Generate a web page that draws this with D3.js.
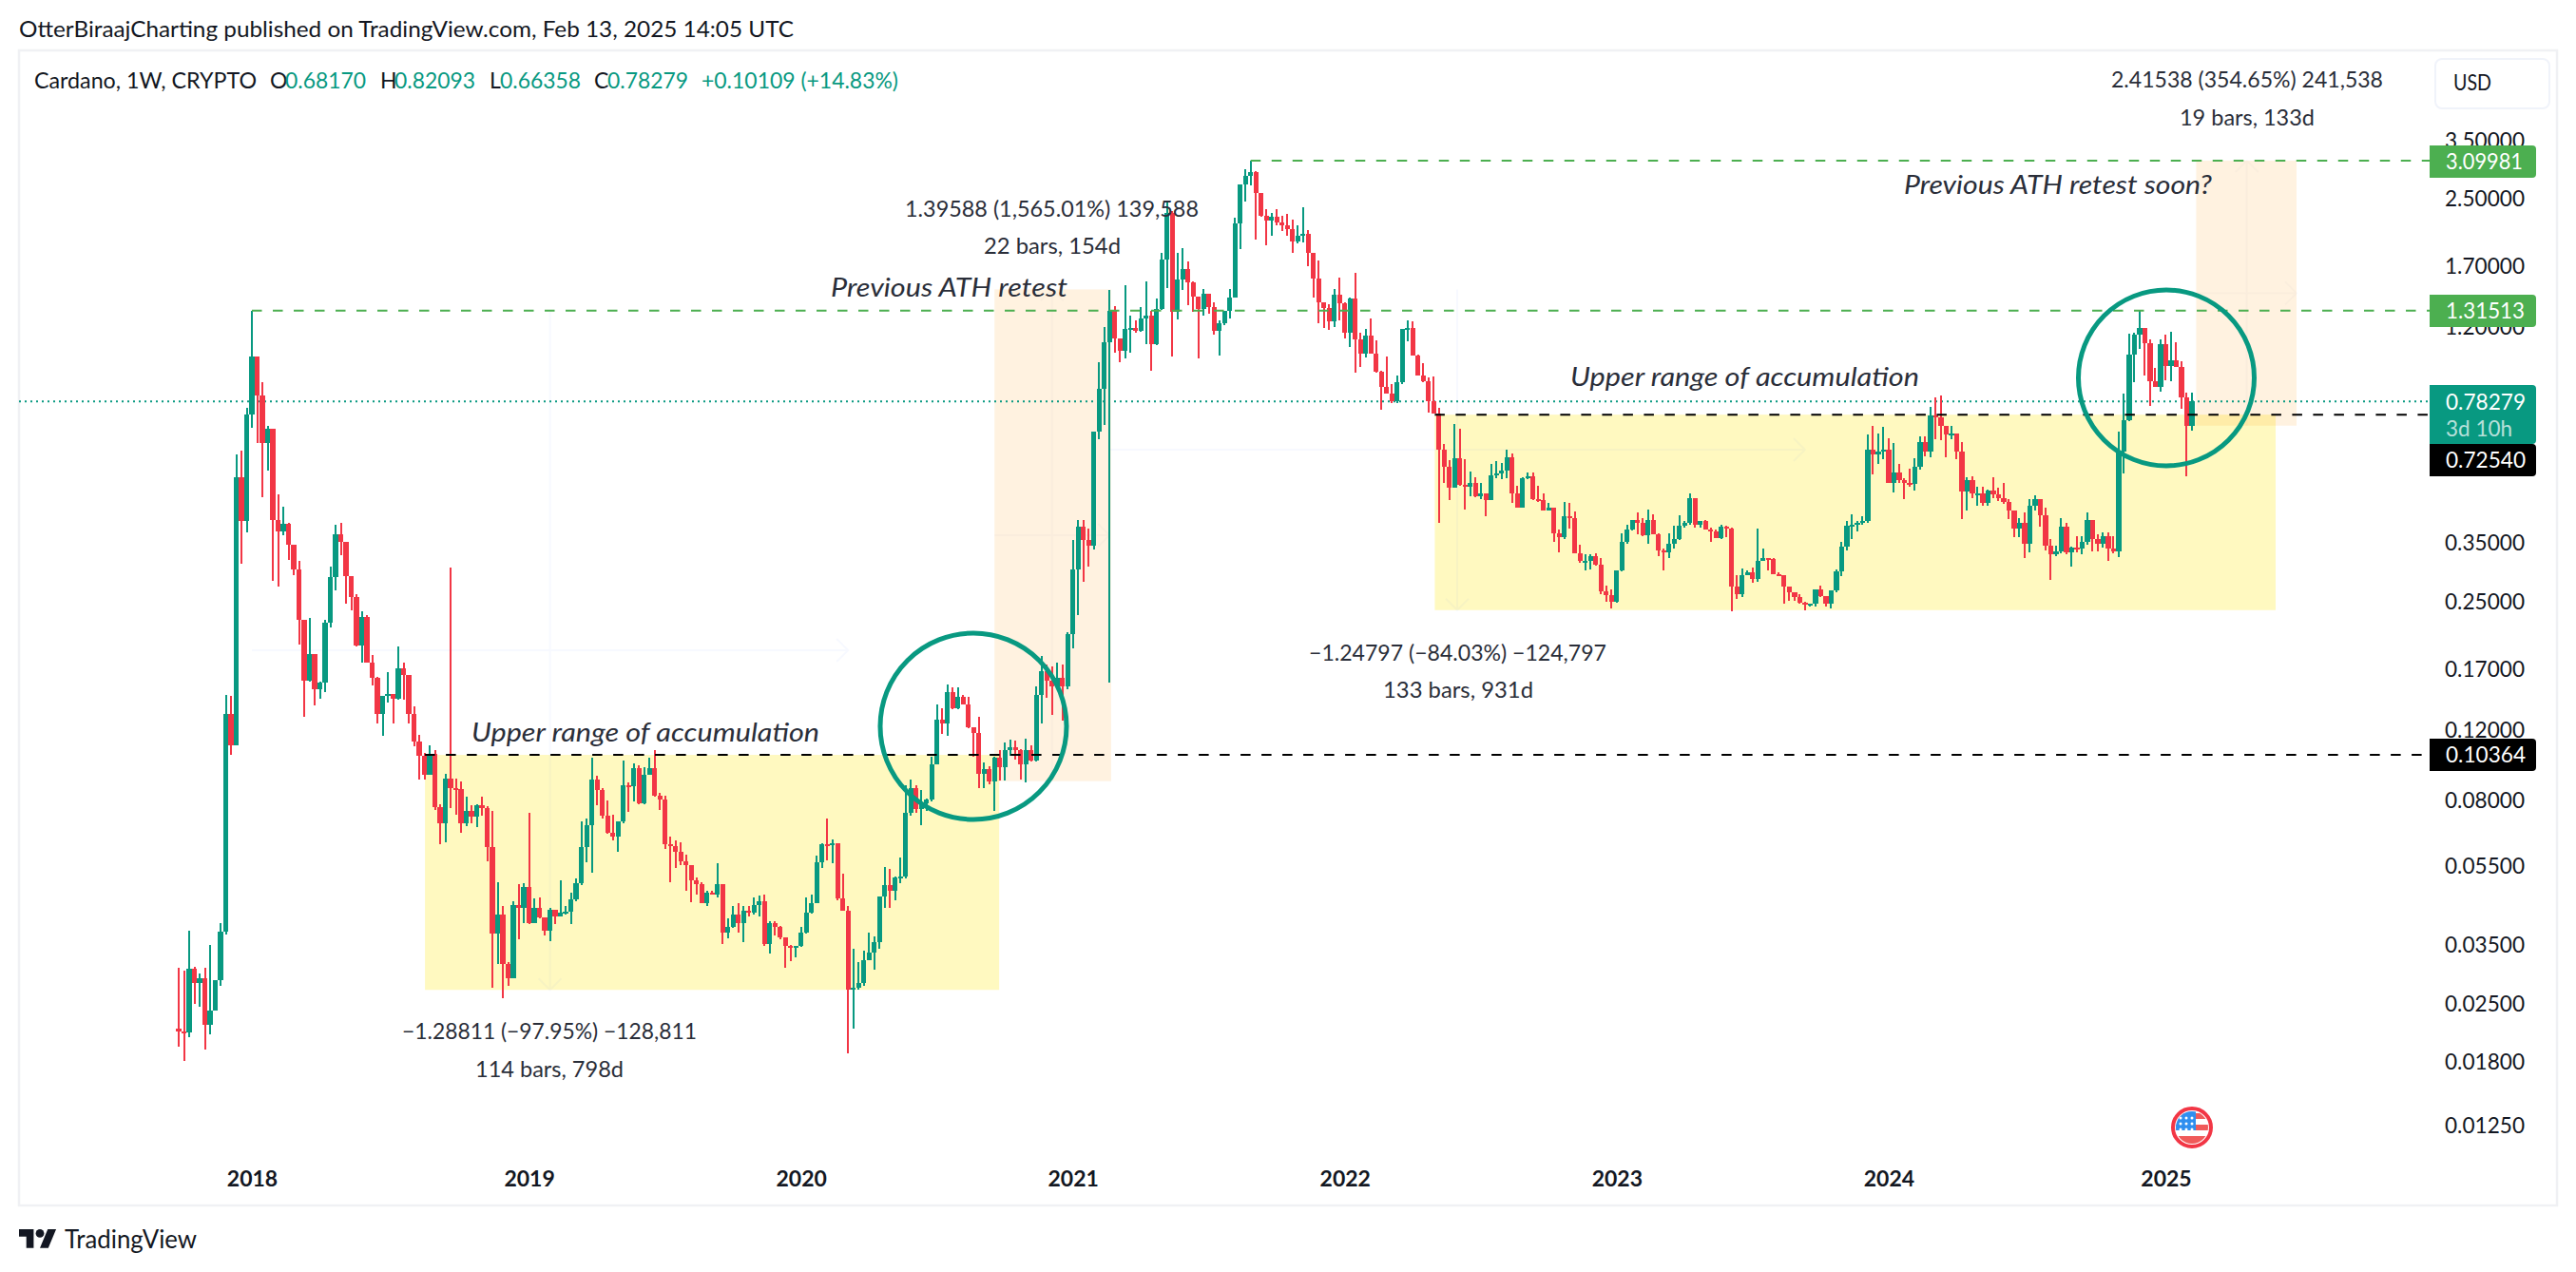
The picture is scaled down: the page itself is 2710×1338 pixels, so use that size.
<!DOCTYPE html>
<html><head><meta charset="utf-8">
<script src="https://cdnjs.cloudflare.com/ajax/libs/d3/7.8.5/d3.min.js"></script>
<style>html,body{margin:0;padding:0;background:#fff}svg{display:block}</style></head>
<body><div id="c"></div>
<script>
const firstOpen = 0.0216;
const closes = [
.0213,.0212,.0305,.0281,.0289,.0221,.0240,.0285,.0377,.1310,
.1095,.5081,.3945,.7258,1.0124,.8115,.6172,.6684,.3966,.3730,
.3885,.3444,.2989,.2240,.1586,.1844,.1505,.1563,.2207,.2860,
.3662,.3506,.2878,.2550,.1933,.2280,.1755,.1610,.1310,.1453,
.1466,.1432,.1703,.1638,.1310,.1121,.1031,.0925,.1041,.0769,
.0700,.0904,.0855,.0850,.0700,.0752,.0726,.0775,.0765,.0612,
.0373,.0415,.0313,.0289,.0440,.0433,.0488,.0396,.0433,.0408,
.0379,.0428,.0411,.0420,.0422,.0454,.0498,.0612,.0695,.0898,
.0846,.0732,.0665,.0650,.0710,.0872,.0867,.0961,.0787,.0925,
.0961,.0822,.0804,.0621,.0616,.0595,.0564,.0553,.0505,.0495,
.0443,.0470,.0466,.0494,.0376,.0388,.0415,.0396,.0424,.0420,
.0440,.0449,.0352,.0396,.0388,.0365,.0347,.0345,.0348,.0376,
.0420,.0443,.0560,.0622,.0620,.0625,.0455,.0426,.0270,.0274,
.0281,.0320,.0335,.0355,.0461,.0492,.0477,.0514,.0518,.0745,
.0859,.0761,.0785,.0802,.0984,.1265,.1238,.1486,.1355,.1442,
.1385,.1212,.1175,.0930,.0955,.0890,.1018,.0967,.1068,.1084,
.1068,.0984,.1068,.1005,.1457,.1670,.1585,.1536,.1606,.1536,
.2067,.2999,.3819,.3535,.3434,.6597,.8431,1.0966,1.3146,1.1207,
1.0461,1.1834,1.1900,1.170,1.2564,1.2747,1.0867,1.3266,1.7573,2.2982,
1.3075,1.5674,1.6641,1.5477,1.4238,1.3266,1.4519,1.3387,1.1727,1.2227,
1.3146,1.4210,2.1608,2.7079,2.8418,2.9092,2.5718,2.2650,2.2044,2.2525,
2.1726,2.1451,2.0972,1.9509,2.0205,2.0353,1.8287,1.5814,1.3790,1.3338,
1.2388,1.4439,1.3682,1.1621,1.4084,1.1167,1.0292,1.1372,1.0292,.9290,
.8508,.8172,.7840,.8712,1.1834,1.1898,1.0199,.9065,.8780,.7840,
.7320,.5946,.5390,.4782,.5641,.4852,.4808,.4896,.4552,.4614,
.4456,.5124,.5170,.5263,.5678,.4614,.4273,.5033,.5099,.4476,
.4449,.4186,.4251,.3683,.3597,.4057,.4012,.3286,.3135,.3151,
.3227,.3074,.2636,.2580,.2481,.2974,.3500,.3756,.3975,.3917,
.3643,.3975,.3660,.3334,.3304,.3472,.3555,.3833,.3904,.4502,
.3868,.3940,.3770,.3714,.3578,.3821,.3780,.2716,.2594,.2900,
.2940,.2833,.3151,.3186,.3170,.2907,.2900,.2707,.2626,.2551,
.2471,.2443,.2466,.2666,.2566,.2457,.2651,.2963,.3418,.3833,
.3868,.3904,.3940,.5922,.5786,.5876,.5946,.4917,.5217,.4982,
.4896,.4880,.5372,.6198,.5870,.7237,.7127,.6786,.6480,.6523,
.5870,.4680,.4988,.4614,.4614,.4376,.4696,.4596,.4494,.4392,
.4186,.3788,.3904,.3458,.4297,.4476,.4072,.3436,.3267,.3326,
.3830,.3304,.3387,.3375,.3503,.3969,.3564,.3469,.3629,.3375,
.3326,.5868,.7009,1.0223,1.1480,1.1905,1.0931,.8794,.8499,1.0831,
.9576,.9895,.9524,.8003,.6817,.78279];
const highs = [
.0307,.0302,.0379,.0309,.0297,.0307,.0350,.0285,.0397,.1461,
.1453,.5786,.5905,.7541,1.31513,1.0124,.8739,.6800,.6684,.4596,
.4281,.3897,.3444,.3143,.2240,.2267,.1844,.1573,.2240,.3043,
.3864,.3897,.3506,.2878,.2596,.2362,.2307,.1833,.1620,.1453,
.1668,.1461,.1927,.1755,.1638,.1369,.1161,.1047,.1095,.1063,
.0781,.0930,.3025,.0904,.0890,.0818,.0775,.0781,.0818,.0771,
.0752,.0501,.0436,.0317,.0449,.0494,.0498,.0742,.0456,.0459,
.0408,.0433,.0428,.0505,.0436,.0472,.0510,.0710,.0721,.1019,
.0920,.0858,.0799,.0736,.0710,.1005,.0885,.0987,.0979,.0966,
.1019,.1066,.0833,.0822,.0650,.0635,.0628,.0586,.0553,.0513,
.0501,.0477,.0477,.0558,.0495,.0406,.0436,.0443,.0436,.0436,
.0459,.0463,.0467,.0400,.0400,.0390,.0365,.0350,.0347,.0388,
.0459,.0467,.0582,.0625,.0722,.0638,.0622,.0525,.0437,.0342,
.0316,.0338,.0374,.0367,.0461,.0547,.0539,.0518,.0575,.0872,
.0899,.0872,.0849,.0807,.1024,.1385,.1356,.1552,.1525,.1525,
.1457,.1442,.1215,.1288,.0992,.0972,.1024,.1068,.1114,.1133,
.1127,.1073,.1138,.1095,.1536,.1829,.1738,.1716,.1759,.1738,
.2094,.3551,.3961,.3961,.3790,.6597,.978,1.196,1.479,1.346,
1.1227,1.5198,1.2769,1.2450,1.3387,1.5570,1.3146,1.4084,1.8287,2.4576,
2.3276,1.8320,1.8790,1.7413,1.5570,1.4263,1.4865,1.4519,1.3790,1.2450,
1.3146,1.4865,2.2325,2.7108,2.9463,3.09981,2.9198,2.5718,2.3555,2.3012,
2.3555,2.2650,2.2860,2.2123,2.1389,2.3763,2.0798,1.8287,1.7493,1.3790,
1.3637,1.4865,1.5848,1.3790,1.4186,1.6342,1.1579,1.1834,1.2564,1.1103,
.9301,1.0104,.8628,.9065,1.1834,1.2450,1.2400,1.0239,.9746,.8983,
.9016,.7525,.6120,.5590,.6872,.6701,.5610,.5236,.5076,.4896,
.4614,.5463,.5562,.5514,.5922,.5800,.4835,.5076,.5217,.5198,
.4835,.4614,.4368,.4257,.3766,.4392,.4368,.4159,.3440,.3268,
.3256,.3286,.3186,.2725,.2666,.2974,.3683,.3856,.3975,.4144,
.4012,.4224,.4092,.3683,.3376,.3683,.3843,.4072,.3940,.4614,
.4502,.3955,.3963,.3792,.3766,.3856,.3843,.3792,.2900,.3017,
.2974,.3028,.3780,.3376,.3186,.3186,.2945,.2900,.2707,.2626,
.2594,.2481,.2466,.2677,.2725,.2576,.2651,.2986,.3500,.3940,
.4100,.3940,.4057,.6483,.6786,.6522,.6760,.6344,.6166,.5463,
.5033,.5336,.5660,.6411,.6411,.7566,.8002,.8109,.6786,.6786,
.6522,.6198,.5076,.5092,.4808,.4808,.4723,.5076,.4765,.4896,
.4484,.4202,.4012,.4137,.4476,.4578,.4484,.4257,.3564,.3436,
.4010,.3902,.3405,.3629,.3615,.4146,.3969,.3662,.3695,.3708,
.3629,.6583,.8175,1.1527,1.1590,1.31513,1.1905,1.1170,.9455,1.1170,
1.1470,1.1625,1.0971,.9840,.8206,.82093];
const lows = [
.0195,.0180,.0206,.0250,.0245,.0192,.0210,.0240,.0277,.0371,
.1035,.1095,.3088,.3695,.6738,.6172,.4515,.5265,.2808,.2721,
.3642,.3161,.2893,.1945,.1287,.1573,.1378,.1427,.1483,.2144,
.2649,.3255,.2461,.2375,.1925,.1755,.1755,.1539,.1243,.1155,
.1398,.1243,.1421,.1421,.1243,.1089,.0898,.0898,.0925,.0757,
.0621,.0628,.0765,.0736,.0665,.0689,.0700,.0686,.0732,.0564,
.0273,.0313,.0258,.0277,.0289,.0360,.0396,.0394,.0398,.0406,
.0369,.0358,.0394,.0411,.0415,.0394,.0449,.0491,.0561,.0529,
.0775,.0721,.0659,.0635,.0595,.0700,.0746,.0795,.0781,.0781,
.0925,.0818,.0757,.0604,.0501,.0544,.0553,.0477,.0447,.0465,
.0443,.0436,.0466,.0459,.0352,.0362,.0385,.0376,.0355,.0411,
.0415,.0411,.0348,.0332,.0369,.0360,.0307,.0319,.0325,.0345,
.0373,.0418,.0445,.0543,.0568,.0558,.0452,.0426,.0188,.0216,
.0270,.0277,.0323,.0304,.0342,.0432,.0432,.0452,.0498,.0512,
.0730,.0745,.0695,.0753,.0796,.0980,.1166,.1153,.1343,.1345,
.1385,.1204,.1024,.0859,.0859,.0876,.0753,.0896,.0896,.1033,
.1007,.0901,.0883,.0999,.0999,.1238,.1434,.1305,.1505,.1259,
.1505,.1901,.2301,.2795,.3038,.3353,.6306,.6843,.1566,1.0348,
.9800,1.0015,1.0348,1.1579,1.168,1.0867,.9348,1.0827,1.3218,1.4926,
1.0143,1.2519,1.4791,1.3578,1.3097,1.0015,1.2769,1.2910,1.1476,1.0160,
1.2110,1.2564,1.4135,1.8720,2.4576,2.6910,1.9758,2.2446,1.9075,2.0205,
2.1389,2.0687,2.0132,1.8320,1.9307,1.9413,1.6946,1.4186,1.2227,1.1898,
1.1791,1.2004,1.2450,1.1227,1.0672,.9230,.9536,1.0071,1.0292,.9230,
.7466,.8172,.7768,.7768,.8663,1.1066,1.0199,.9065,.8712,.7360,
.7294,.3904,.4896,.4449,.4782,.4830,.4208,.4552,.4525,.4484,
.4057,.4449,.5033,.5014,.5033,.4368,.4273,.4257,.5014,.4449,
.4392,.4186,.4202,.3500,.3304,.3565,.3780,.3286,.3104,.2974,
.3000,.3055,.2594,.2481,.2396,.2471,.2963,.3472,.3739,.3660,
.3630,.3458,.3660,.3227,.2974,.3186,.3376,.3533,.3792,.3868,
.3792,.3792,.3756,.3500,.3578,.3555,.3597,.2359,.2535,.2551,
.2907,.2776,.2787,.3138,.2974,.2907,.2877,.2457,.2504,.2504,
.2457,.2372,.2425,.2416,.2551,.2425,.2396,.2626,.2877,.3329,
.3555,.3714,.3868,.3917,.5145,.5463,.5610,.4896,.4661,.4896,
.4476,.4808,.4696,.5302,.5712,.5692,.6312,.6277,.5692,.6312,
.5610,.3997,.4202,.4502,.4311,.4311,.4311,.4502,.4420,.4352,
.3990,.3597,.3597,.3186,.3304,.4202,.3821,.3345,.2815,.3225,
.3285,.3267,.3043,.3304,.3267,.3448,.3326,.3326,.3392,.3150,
.3285,.3218,.5195,.6997,.8739,1.0580,.9068,.7633,.8499,.8282,
.8827,.8794,.9524,.7497,.5110,.66358];
const opens = closes.map((c,i)=> i===0 ? firstOpen : closes[i-1]);

const priceTicks = [3.5,2.5,1.7,1.2,0.35,0.25,0.17,0.12,0.08,0.055,0.035,0.025,0.018,0.0125];
const yearBars = [14,67,119,171,223,275,327,380];
const yearLabels = ["2018","2019","2020","2021","2022","2023","2024","2025"];

const FONT = "Lato, 'Noto Sans', sans-serif";
const GREEN="#089981", RED="#F23645", INK="#131722", NOTE="#2a2e39", LINEGREEN="#4CAF50";
const W=2710,H=1338;
const svg=d3.select("#c").append("svg").attr("width",W).attr("height",H).attr("viewBox",[0,0,W,H]).style("font-family",FONT);

const x=d3.scaleLinear().domain([0,385]).range([188,2306]);
const y=d3.scaleLog().domain([5.795,0.00995]).range([54,1225]);

function t(px,py,str,o={}){
  const e=svg.append("text").attr("x",px).attr("y",py).attr("dy",".36em").text(str)
    .attr("font-size",o.size||21).attr("fill",o.fill||NOTE).attr("text-anchor",o.anchor||"start");
  if(o.italic) e.attr("font-style","italic");
  if(o.weight) e.attr("font-weight",o.weight);
  if(o.w) e.attr("textLength",o.w).attr("lengthAdjust","spacingAndGlyphs");
  if(o.op) e.attr("opacity",o.op);
  return e;
}

// frame
svg.append("rect").attr("x",20).attr("y",53).attr("width",2670).attr("height",1215).attr("fill","#fff").attr("stroke","#f0f1f4").attr("stroke-width",2.5);
t(20,31,"OtterBiraajCharting published on TradingView.com, Feb 13, 2025 14:05 UTC",{fill:INK,w:815,size:23});

// zones (price / bar coordinates)
const zones=[
 {b0:47.1,b1:156.9,top:0.10364,bot:0.02702,fill:"#FFEB3B",op:.32},
 {b0:240.2,b1:401,top:0.7254,bot:0.2372,fill:"#FFEB3B",op:.32},
 {b0:156,b1:178.3,top:1.4851,bot:0.0892,fill:"#FF9800",op:.12},
 {b0:385.8,b1:405,top:3.09981,bot:0.6811,fill:"#FF9800",op:.12}];
svg.append("g").selectAll("rect").data(zones).join("rect")
 .attr("x",d=>x(d.b0)).attr("width",d=>x(d.b1)-x(d.b0)).attr("y",d=>y(d.top)).attr("height",d=>y(d.bot)-y(d.top))
 .attr("fill",d=>d.fill).attr("fill-opacity",d=>d.op);

// faint measure-tool guide lines with arrow tips
const guides=[
 {b0:14,b1:128,p0:1.31513,p1:0.02702,c:"#2962ff"},
 {b0:178,b1:311,p0:1.4851,p1:0.2372,c:"#2962ff"},
 {b0:156,b1:178,p0:0.0892,p1:1.4851,c:"#787b86"},
 {b0:386,b1:405,p0:0.6811,p1:3.09981,c:"#787b86"}];
const gg=svg.append("g").attr("fill","none").attr("stroke-width",2).attr("stroke-opacity",.035);
guides.forEach(g=>{
  const xm=x((g.b0+g.b1)/2), x0=x(g.b0), x1=x(g.b1), y0=y(g.p0), y1=y(g.p1);
  const midY=y(Math.sqrt(g.p0*g.p1));
  const s=y1>y0?-1:1;
  gg.append("path").attr("stroke",g.c).attr("d",`M${x0},${midY}H${x1}M${x1-12},${midY-12}L${x1},${midY}L${x1-12},${midY+12}M${xm},${y0}V${y1}M${xm-12},${y1+12*s}L${xm},${y1}L${xm+12},${y1+12*s}`);
});

// last price dotted line
svg.append("line").attr("x1",20).attr("x2",2556).attr("y1",y(0.78279)).attr("y2",y(0.78279))
 .attr("stroke",GREEN).attr("stroke-width",2).attr("stroke-dasharray","2 4");

// candles
const idx=d3.range(closes.length);
const color=i=>closes[i]>=opens[i]?GREEN:RED;
const cg=svg.append("g").attr("shape-rendering","crispEdges");
cg.selectAll("line").data(idx).join("line")
 .attr("x1",i=>x(i)).attr("x2",i=>x(i)).attr("y1",i=>y(highs[i])).attr("y2",i=>y(lows[i]))
 .attr("stroke",color).attr("stroke-width",2);
cg.selectAll("rect").data(idx).join("rect")
 .attr("x",i=>x(i)-2.6).attr("width",5.2)
 .attr("y",i=>y(Math.max(opens[i],closes[i])))
 .attr("height",i=>Math.max(2,Math.abs(y(opens[i])-y(closes[i]))))
 .attr("fill",color);

// horizontal levels
const levels=[
 {b:14,p:1.31513,c:LINEGREEN},
 {b:205,p:3.09981,c:LINEGREEN},
 {b:47.1,p:0.10364,c:"#000"},
 {b:240.2,p:0.7254,c:"#000"}];
svg.append("g").selectAll("line").data(levels).join("line")
 .attr("x1",d=>x(d.b)).attr("x2",2556).attr("y1",d=>y(d.p)).attr("y2",d=>y(d.p))
 .attr("stroke",d=>d.c).attr("stroke-width",2).attr("stroke-dasharray","10.5 11.5");

// circles
svg.append("g").selectAll("ellipse").data([{cx:1024,cy:764,r:98},{cx:2279,cy:397.5,r:92.5}]).join("ellipse")
 .attr("cx",d=>d.cx).attr("cy",d=>d.cy).attr("rx",d=>d.r).attr("ry",d=>d.r)
 .attr("fill","none").attr("stroke",GREEN).attr("stroke-width",5);

// notes
const noteA={italic:true,size:27};
t(496,770,"Upper range of accumulation",{...noteA,w:366});
t(1652,396,"Upper range of accumulation",{...noteA,w:367});
t(874,302,"Previous ATH retest",{...noteA,w:249});
t(2003,194,"Previous ATH retest soon?",{...noteA,w:324});
const noteB={size:23,anchor:"start"};
t(952,220,"1.39588 (1,565.01%) 139,588",{...noteB,w:309});
t(1035,259,"22 bars, 154d",{...noteB,w:144});
t(423,1085,"\u22121.28811 (\u221297.95%) \u2212128,811",{...noteB,w:310});
t(500,1125,"114 bars, 798d",{...noteB,w:156});
t(1377,687,"\u22121.24797 (\u221284.03%) \u2212124,797",{...noteB,w:313});
t(1455,726,"133 bars, 931d",{...noteB,w:158});
t(2221,84,"2.41538 (354.65%) 241,538",{...noteB,w:286});
t(2293,124,"19 bars, 133d",{...noteB,w:142});

// legend
t(36,85,"Cardano, 1W, CRYPTO",{fill:INK,w:234,size:23});
[["O",284,"0.68170",300],["H",400,"0.82093",415],["L",515,"0.66358",526],["C",625,"0.78279",639]].forEach(a=>{
  t(a[1],85,a[0],{fill:INK,size:23});
  t(a[3],85,a[2],{fill:GREEN,w:85,size:23});
});
t(738,85,"+0.10109 (+14.83%)",{fill:GREEN,w:207,size:23});

// price axis
const ya=d3.axisRight(y).tickValues(priceTicks).tickFormat(d3.format(".5f")).tickSize(0).tickPadding(0);
const yg=svg.append("g").attr("transform","translate(2572,0)").call(ya);
yg.select(".domain").remove();
yg.selectAll("text").attr("font-family",FONT).attr("font-size",23).attr("fill",INK).attr("x",0)
 .attr("textLength",84).attr("lengthAdjust","spacingAndGlyphs").attr("dy",".36em");

// time axis
const xa=d3.axisBottom(x).tickValues(yearBars).tickFormat((d,i)=>yearLabels[i]).tickSize(0).tickPadding(0);
const xg=svg.append("g").attr("transform","translate(0,1232)").call(xa);
xg.select(".domain").remove();
xg.selectAll("text").attr("font-family",FONT).attr("font-size",23).attr("font-weight",700).attr("fill",INK);

// USD box
svg.append("rect").attr("x",2562).attr("y",62).attr("width",120).attr("height",52).attr("rx",7).attr("fill","#fff").attr("stroke","#f0f3fa").attr("stroke-width",2);
t(2581,87,"USD",{fill:INK,w:40,size:23});

// price labels
function box(px,py,w,h,fill){svg.append("path").attr("fill",fill).attr("d",`M${px},${py}H${px+w-4}q4,0 4,4V${py+h-4}q0,4 -4,4H${px}Z`);}
box(2556,153,112,34,LINEGREEN); t(2573,170,"3.09981",{fill:"#fff",w:81,size:23});
box(2556,310,112,34,LINEGREEN); t(2573,327,"1.31513",{fill:"#fff",w:83,size:23});
box(2556,405,112,62,GREEN);     t(2573,423,"0.78279",{fill:"#fff",w:84,size:23});
t(2573,451,"3d 10h",{fill:"#fff",w:70,size:23,op:.7});
box(2556,467,112,34,"#000");    t(2573,484,"0.72540",{fill:"#fff",w:84,size:23});
box(2556,777,112,34,"#000");    t(2573,794,"0.10364",{fill:"#fff",w:84,size:23});

// event flag
const fl=svg.append("g").attr("transform","translate(2306,1186)");
const cid="flagclip";
fl.append("clipPath").attr("id",cid).append("circle").attr("r",17);
fl.append("circle").attr("r",20).attr("fill","#fff").attr("stroke",RED).attr("stroke-width",4);
const fc=fl.append("g").attr("clip-path",`url(#${cid})`);
[[-22,-15,44,6],[-22,-3,44,6],[-22,9,44,8]].forEach(r=>fc.append("rect").attr("x",r[0]).attr("y",r[1]).attr("width",r[2]).attr("height",r[3]).attr("fill","#F05A5A"));
fc.append("rect").attr("x",-17).attr("y",-17).attr("width",21).attr("height",20).attr("fill","#2F8FEF");
[-10,-4,2].forEach((sy,j)=>[-12,-6,0].forEach(sx=>fc.append("circle").attr("cx",sx).attr("cy",sy).attr("r",1.5).attr("fill","#fff")));

// TradingView logo
const lg=svg.append("g").attr("transform","translate(20,1288.6) scale(1.1)").attr("fill","#131722");
lg.append("path").attr("d","M14 22H7V11H0V4h14v18zM28 22h-8l7.5-18h8L28 22z");
lg.append("circle").attr("cx",20).attr("cy",8).attr("r",4);
t(68,1303,"TradingView",{fill:INK,size:27,w:139});
</script></body></html>
